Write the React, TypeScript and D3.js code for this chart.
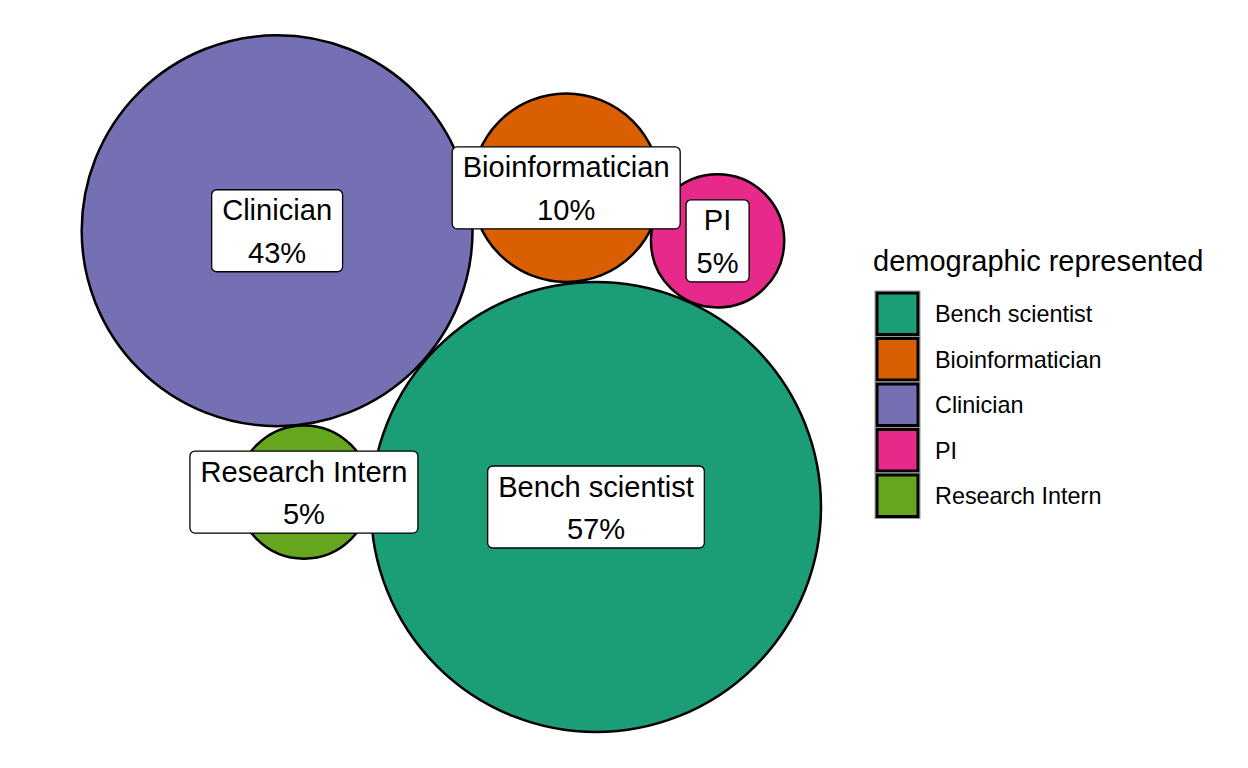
import React from "react";
import * as d3 from "d3";

// Data
const categories = ["Bench scientist", "Bioinformatician", "Clinician", "PI", "Research Intern"];
const percents = [57, 10, 43, 5, 5];
// circle-packing layout centres (layout units, y up)
const layoutX = [0, -1.0, -10.7, 4.08, -9.8];
const layoutY = [0, 10.71, 9.27, 8.93, 0.5];
const colors = ["#1B9E77", "#D95F02", "#7570B3", "#E7298A", "#66A61E"];
const legendTitle = "demographic represented";

const W = 1248;
const H = 768;
const FONT = "'Liberation Sans', Arial, Helvetica, sans-serif";
const LABEL_SIZE = 29.1;
const LEGEND_TEXT = 23.4;
const LEGEND_TITLE = 29;

function measure(text: string, size: number): number {
  const c = document.createElement("canvas");
  const ctx = c.getContext("2d");
  if (!ctx) return text.length * size * 0.5;
  ctx.font = `${size}px 'Liberation Sans', Arial, sans-serif`;
  return ctx.measureText(text).width;
}

export default function App() {
  const unit = 225 / Math.sqrt(57);
  const x = d3.scaleLinear().domain([0, 1]).range([596, 596 + unit]);
  const y = d3.scaleLinear().domain([0, 1]).range([507, 507 - unit]);
  const r = d3.scaleSqrt().domain([0, 57]).range([0, 225]);

  const nodes = categories.map((c, i) => ({
    name: c,
    pct: percents[i],
    cx: x(layoutX[i]),
    cy: y(layoutY[i]),
    r: r(percents[i]),
    color: colors[i],
  }));

  const fmt = (v: number) => `${v}%`;
  const pad = 10.5;
  const boxH = 82;

  const keyX = 876;
  const keyTop = 292;
  const keyStep = 45.5;
  const keyW = 43;

  return (
    <svg width={W} height={H} style={{ position: "absolute", left: 0, top: 0, background: "#fff" }} fontFamily={FONT}>
      <rect x={0} y={0} width={W} height={H} fill="#fff" />
      {nodes.map((n) => (
        <circle key={n.name} cx={n.cx} cy={n.cy} r={n.r} fill={n.color} stroke="#000" strokeWidth={2.5} />
      ))}
      {nodes.map((n) => {
        const w = Math.max(measure(n.name, LABEL_SIZE), measure(fmt(n.pct), LABEL_SIZE)) + 2 * pad;
        return (
          <g key={"l" + n.name}>
            <rect
              x={n.cx - w / 2}
              y={n.cy - boxH / 2}
              width={w}
              height={boxH}
              rx={5}
              ry={5}
              fill="#fff"
              stroke="#000"
              strokeWidth={1.3}
            />
            <text x={n.cx} y={n.cy - 10.5} textAnchor="middle" fontSize={LABEL_SIZE} fill="#000">
              {n.name}
            </text>
            <text x={n.cx} y={n.cy + 32} textAnchor="middle" fontSize={LABEL_SIZE} fill="#000">
              {fmt(n.pct)}
            </text>
          </g>
        );
      })}
      <text x={873} y={271} fontSize={LEGEND_TITLE} fill="#000">
        {legendTitle}
      </text>
      {categories.map((c, i) => (
        <g key={"k" + c}>
          <rect
            x={keyX - 1}
            y={keyTop + i * keyStep - 1}
            width={keyW + 2}
            height={keyStep}
            fill="none"
            stroke="#9a9a9a"
            strokeWidth={1}
          />
          <rect
            x={keyX + 1}
            y={keyTop + i * keyStep + 1}
            width={keyW - 2}
            height={keyStep - 4}
            fill={colors[i]}
            stroke="#000"
            strokeWidth={3}
          />
          <text
            x={935}
            y={keyTop + i * keyStep + keyStep / 2 - 1}
            dy="0.36em"
            fontSize={LEGEND_TEXT}
            fill="#000"
          >
            {c}
          </text>
        </g>
      ))}
    </svg>
  );
}
